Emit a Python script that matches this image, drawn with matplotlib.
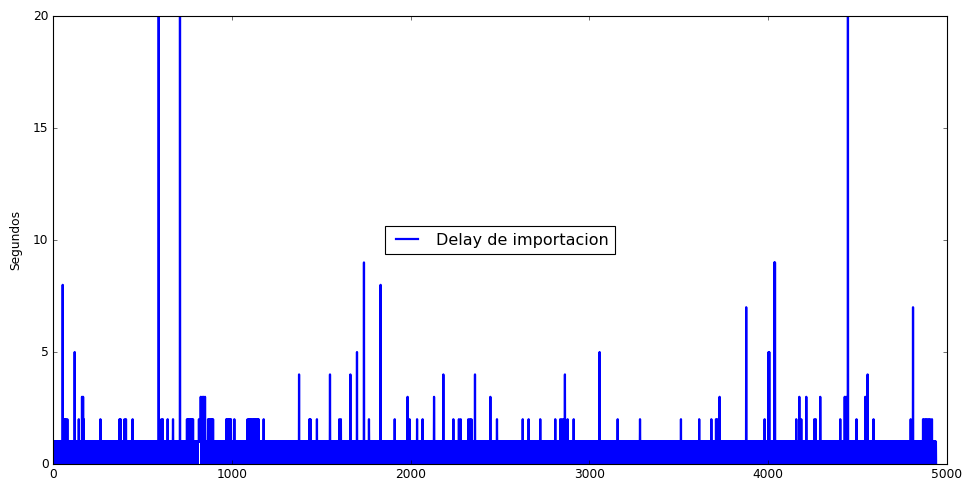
import numpy as np
import matplotlib
matplotlib.use("Agg")
import matplotlib.pyplot as plt

# numero de importaciones registradas
n_registros = 4940

# patron base del delay (se repite en todo el registro)
patron_base = [1, 0]

# tramos donde el delay se queda fijo en 1 segundo
tramos_planos = [(810, 828)]

# picos de delay: (indice, segundos)
picos = [
    (54, 8), (60, 2), (66, 2), (72, 2), (80, 2), (121, 5), (144, 2),
    (162, 3), (168, 3), (172, 2), (265, 2), (372, 2), (378, 2), (400, 2),
    (408, 2), (445, 2), (591, 20), (606, 2), (614, 2), (641, 2), (671, 2),
    (710, 20), (749, 2), (756, 2), (763, 2), (770, 2), (777, 2), (783, 2),
    (816, 2), (826, 3), (834, 3), (842, 3), (850, 3), (867, 2), (874, 2),
    (881, 2), (888, 2), (895, 2), (969, 2), (976, 2), (983, 2), (990, 2),
    (995, 2), (1014, 2), (1088, 2), (1095, 2), (1102, 2), (1109, 2),
    (1116, 2), (1123, 2), (1130, 2), (1137, 2), (1144, 2), (1150, 2),
    (1178, 2), (1376, 4), (1434, 2), (1440, 2), (1476, 2), (1549, 4),
    (1601, 2), (1610, 2), (1663, 4), (1700, 5), (1739, 9), (1767, 2),
    (1832, 8), (1911, 2), (1983, 3), (1994, 2), (2036, 2), (2067, 2),
    (2131, 3), (2183, 4), (2239, 2), (2270, 2), (2280, 2), (2323, 2),
    (2332, 2), (2340, 2), (2360, 4), (2446, 3), (2483, 2), (2627, 2),
    (2660, 2), (2725, 2), (2809, 2), (2837, 2), (2846, 2), (2855, 2),
    (2863, 4), (2878, 2), (2912, 2), (3057, 5), (3158, 2), (3283, 2),
    (3512, 2), (3614, 2), (3682, 2), (3708, 2), (3716, 2), (3728, 3),
    (3877, 7), (3980, 2), (4002, 5), (4006, 5), (4034, 9), (4038, 9),
    (4157, 2), (4174, 3), (4185, 2), (4213, 3), (4258, 2), (4266, 2),
    (4291, 3), (4403, 2), (4428, 3), (4436, 3), (4446, 20), (4494, 2),
    (4543, 3), (4556, 4), (4589, 2), (4797, 2), (4810, 7), (4866, 2),
    (4874, 2), (4882, 2), (4890, 2), (4898, 2), (4906, 2), (4916, 2),
]

delay = np.resize(patron_base, n_registros).astype(float)
for ini, fin in tramos_planos:
    delay[ini:fin + 1] = 1
for idx, seg in picos:
    delay[idx] = seg

plt.style.use('classic')
plt.rcParams['savefig.facecolor'] = 'white'
plt.rcParams['figure.facecolor'] = 'white'

fig = plt.figure(figsize=(12.1, 6.1125), dpi=80)
ax = fig.add_axes([0.0548, 0.0511, 0.9235, 0.916])
ax.plot(np.arange(n_registros), delay, color='b', linewidth=2, label='Delay de importacion')
ax.set_xlim(0, 5000)
ax.set_ylim(0, 20)
ax.set_xticks([0, 1000, 2000, 3000, 4000, 5000])
ax.set_yticks([0, 5, 10, 15, 20])
ax.tick_params(labelsize=11)
ax.set_ylabel('Segundos', fontsize=11, labelpad=10)
ax.legend(loc='center', fontsize=14.4)

fig.savefig('out.png', dpi=80)
